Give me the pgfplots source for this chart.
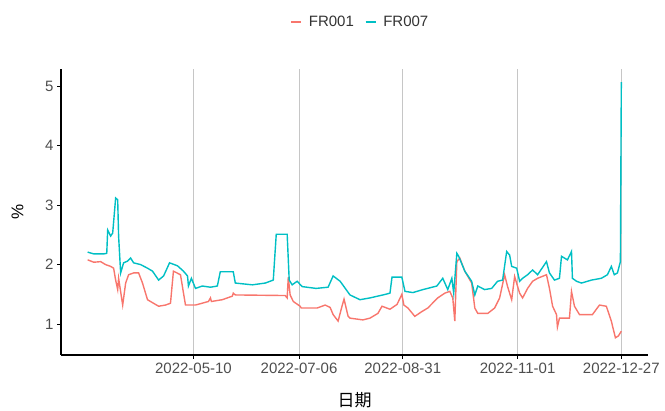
\documentclass[border=0pt]{standalone}
\usepackage{pgfplots}
\pgfplotsset{compat=1.18}
\usepackage{fontspec}
\setmainfont{Liberation Sans}
\newfontfamily\cjk{Noto Sans CJK SC}
\definecolor{c1}{HTML}{F8766D}
\definecolor{c2}{HTML}{00BFC4}
\definecolor{tickgray}{HTML}{4D4D4D}

\begin{document}
\begin{tikzpicture}
\begin{axis}[
    at={(61pt,54pt)}, anchor=south west,
    width=587pt, height=286pt, scale only axis,
    xmin=57.5, xmax=374.4,
    ymin=0.48, ymax=5.29,
    axis x line*=bottom, axis y line*=left,
    axis line style={black, line width=1.2pt, -},
    xtick={129,186,242,304,360},
    xticklabels={2022-05-10,2022-07-06,2022-08-31,2022-11-01,2022-12-27},
    ytick={1,2,3,4,5},
    xmajorgrids,
    grid style={gray!45, line width=0.8pt},
    tick style={black, line width=1pt},
    major tick length=4pt,
    tick align=outside,
    ticklabel style={font=\fontsize{15}{15}\selectfont, text=tickgray},
    /pgf/number format/assume math mode=true,
    xlabel={\cjk 日期}, ylabel={\%},
    every axis x label/.style={at={(axis description cs:0.5,-0.157)}, anchor=center,
        font=\fontsize{17}{17}\selectfont},
    every axis y label/.style={at={(axis description cs:-0.074,0.5)}, rotate=90, anchor=center,
        font=\fontsize{17}{17}\selectfont},
    legend style={at={(axis description cs:0.51,1.164)}, anchor=center, draw=none,
        legend columns=2, font=\fontsize{15}{15}\selectfont, text=black!80,
        /tikz/every odd column/.append style={column sep=5pt},
        /tikz/every even column/.append style={column sep=9pt}},
    legend image code/.code={\draw[#1] (0pt,0pt) -- (10pt,0pt);},
]
% FR001
\addplot[color=c1, line width=1.4pt] coordinates {
(71.9,2.08)(75.2,2.04)(78.9,2.05)(81.6,2.00)(84.3,1.97)(85.9,1.94)(87.0,1.74)(88.1,1.58)(88.6,1.77)(90.8,1.32)(92.4,1.69)(94.0,1.83)(96.7,1.86)(99.4,1.86)(101.5,1.69)(104.2,1.41)(106.9,1.36)(110.2,1.30)(113.9,1.32)(116.6,1.35)(118.2,1.89)(122.0,1.83)(124.7,1.32)(130.1,1.32)(137.1,1.38)(138.2,1.44)(138.7,1.38)(144.6,1.41)(150.0,1.47)(150.5,1.52)(151.6,1.49)(178.5,1.48)(179.6,1.44)(180.2,1.79)(181.2,1.49)(182.9,1.38)(186.6,1.30)(187.2,1.27)(195.8,1.27)(200.1,1.32)(202.8,1.28)(204.4,1.16)(207.1,1.05)(209.2,1.30)(210.3,1.42)(212.5,1.13)(213.5,1.10)(220.5,1.07)(224.3,1.10)(228.6,1.18)(230.8,1.30)(235.1,1.25)(238.9,1.33)(241.5,1.50)(242.6,1.32)(244.8,1.27)(248.5,1.13)(252.3,1.21)(255.5,1.27)(260.9,1.44)(264.7,1.52)(267.4,1.55)(269.0,1.44)(270.1,1.05)(271.2,2.05)(272.8,2.11)(275.5,1.89)(279.2,1.69)(280.9,1.27)(282.5,1.18)(287.9,1.18)(291.6,1.27)(294.3,1.44)(297.0,1.83)(298.6,1.63)(300.8,1.41)(302.4,1.80)(305.1,1.52)(306.7,1.44)(309.4,1.60)(312.1,1.72)(314.8,1.77)(319.6,1.83)(321.2,1.60)(322.9,1.30)(325.0,1.16)(325.5,0.95)(326.6,1.10)(332.0,1.10)(333.1,1.55)(334.7,1.30)(337.4,1.16)(344.4,1.16)(348.2,1.32)(351.9,1.30)(354.6,1.05)(356.8,0.77)(358.4,0.80)(360.0,0.88)
};
\addlegendentry{FR001}
% FR007
\addplot[color=c2, line width=1.4pt] coordinates {
(71.9,2.21)(75.2,2.18)(80.5,2.18)(82.2,2.19)(82.7,2.58)(84.3,2.48)(85.4,2.53)(87.0,3.12)(88.1,3.09)(88.6,2.48)(89.7,1.86)(91.3,2.03)(93.5,2.06)(95.1,2.11)(96.7,2.03)(100.5,2.00)(104.2,1.94)(106.9,1.89)(110.2,1.74)(112.9,1.81)(116.1,2.03)(120.4,1.98)(123.6,1.89)(125.8,1.81)(126.3,1.64)(127.9,1.77)(130.1,1.60)(133.8,1.64)(138.2,1.62)(141.9,1.64)(143.5,1.88)(150.5,1.88)(151.6,1.69)(160.8,1.66)(167.8,1.69)(172.1,1.74)(173.7,2.51)(179.6,2.51)(180.7,1.74)(182.3,1.66)(185.0,1.72)(187.7,1.63)(195.2,1.60)(201.7,1.62)(204.4,1.81)(208.2,1.72)(213.5,1.49)(218.9,1.41)(224.3,1.44)(231.3,1.49)(235.1,1.52)(236.2,1.79)(241.5,1.79)(243.2,1.55)(247.5,1.53)(252.9,1.58)(260.4,1.64)(263.6,1.77)(266.3,1.58)(268.5,1.77)(269.5,1.52)(271.2,2.19)(272.2,2.14)(275.5,1.89)(279.2,1.72)(280.9,1.49)(282.5,1.64)(286.2,1.58)(290.0,1.60)(293.2,1.72)(295.9,1.74)(298.1,2.22)(299.7,2.16)(300.8,1.97)(303.5,1.94)(305.1,1.72)(306.7,1.77)(309.4,1.83)(312.1,1.91)(314.8,1.83)(319.6,2.05)(321.2,1.86)(323.9,1.74)(326.6,1.77)(327.7,2.14)(329.3,2.11)(330.9,2.08)(333.1,2.22)(333.6,1.77)(335.8,1.72)(338.5,1.69)(343.9,1.74)(349.2,1.77)(352.5,1.83)(354.6,1.97)(356.2,1.83)(357.9,1.86)(359.5,2.05)(360.0,5.07)
};
\addlegendentry{FR007}
\end{axis}
\path[use as bounding box] (0,0) rectangle (665pt,409pt);
\end{tikzpicture}
\end{document}
